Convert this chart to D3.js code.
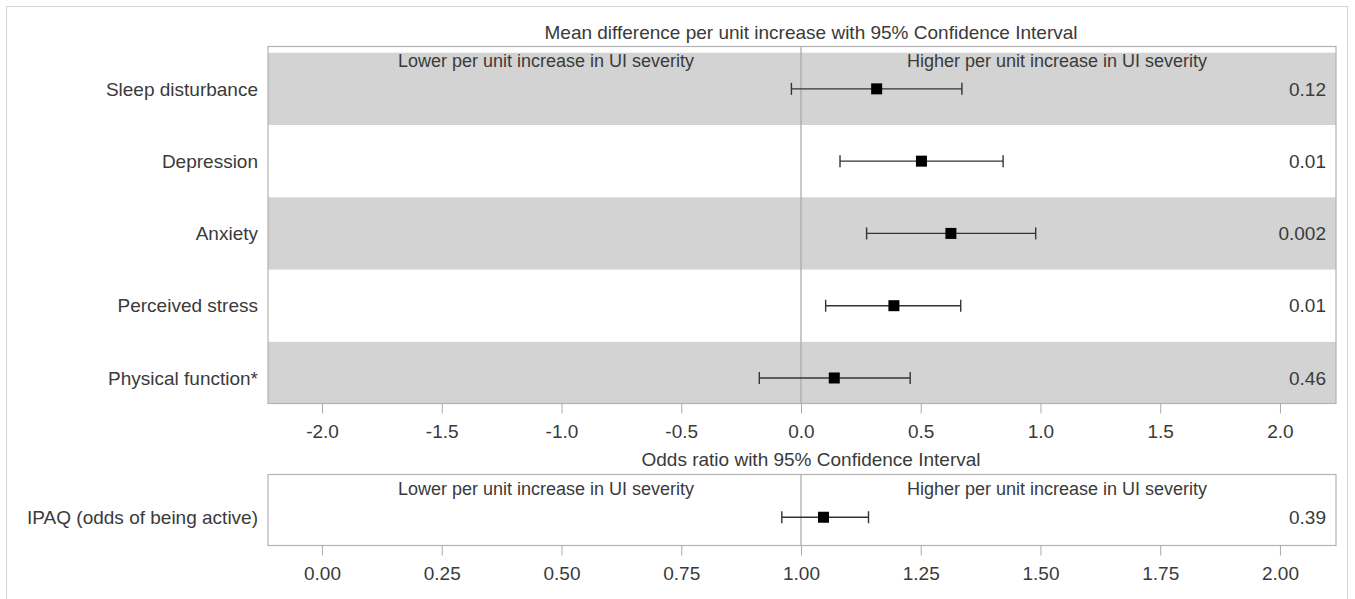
<!DOCTYPE html>
<html>
<head>
<meta charset="utf-8">
<script src="https://cdn.jsdelivr.net/npm/d3@7"></script>
<style>
  body { margin: 0; background: #fff; }
  text { font-family: "Liberation Sans", Arial, sans-serif; fill: #3a3a3a; }
</style>
</head>
<body>
<svg id="chart" width="1355" height="599"></svg>
<script>
// upper panel: mean difference with 95% CI
var outcomes = ["Sleep disturbance", "Depression", "Anxiety", "Perceived stress", "Physical function*"];
var estimates = [0.316, 0.503, 0.626, 0.388, 0.139];
var lowerCI = [-0.04, 0.163, 0.274, 0.103, -0.174];
var upperCI = [0.672, 0.844, 0.98, 0.667, 0.456];
var pValues = ["0.12", "0.01", "0.002", "0.01", "0.46"];
var mdTicks = [-2.0, -1.5, -1.0, -0.5, 0.0, 0.5, 1.0, 1.5, 2.0];

// lower panel: odds ratio with 95% CI
var orOutcomes = ["IPAQ (odds of being active)"];
var orEstimates = [1.047];
var orLowerCI = [0.96];
var orUpperCI = [1.141];
var orPValues = ["0.39"];
var orTicks = [0.00, 0.25, 0.50, 0.75, 1.00, 1.25, 1.50, 1.75, 2.00];

var svg = d3.select("#chart");
var left = 268, right = 1336;

// outer frame
svg.append("rect")
    .attr("x", 6.5).attr("y", 6.5)
    .attr("width", 1341).attr("height", 620)
    .attr("fill", "none").attr("stroke", "#d4d4d4");

function drawPanel(cfg) {
    var x = d3.scaleLinear().domain(cfg.xDomain).range([left, right]);
    var y = d3.scaleLinear().domain(cfg.yDomain).range([cfg.top, cfg.bottom]);
    var g = svg.append("g");
    var n = cfg.labels.length;

    // title
    g.append("text")
        .attr("x", 811).attr("y", cfg.top - cfg.titleGap)
        .attr("text-anchor", "middle")
        .attr("font-size", 19)
        .text(cfg.title);

    // alternating bands
    var clipId = "clip" + cfg.id;
    g.append("clipPath").attr("id", clipId)
      .append("rect")
        .attr("x", left).attr("y", cfg.top)
        .attr("width", right - left).attr("height", cfg.bottom - cfg.top);

    g.append("g").attr("clip-path", "url(#" + clipId + ")")
      .selectAll("rect")
      .data(d3.range(n).filter(function (i) { return i % 2 === 0 && cfg.shade; }))
      .enter().append("rect")
        .attr("x", left)
        .attr("y", function (i) { return y(i - 0.5); })
        .attr("width", right - left)
        .attr("height", function (i) { return y(i + 0.5) - y(i - 0.5); })
        .attr("fill", "#d3d3d3");

    // reference line
    g.append("line")
        .attr("x1", x(cfg.ref)).attr("x2", x(cfg.ref))
        .attr("y1", cfg.top).attr("y2", cfg.bottom)
        .attr("stroke", "#a6a6a6").attr("stroke-width", 1.2);

    // direction labels
    g.append("text")
        .attr("x", 546).attr("y", cfg.top + 20.5)
        .attr("text-anchor", "middle").attr("font-size", 18)
        .text("Lower per unit increase in UI severity");
    g.append("text")
        .attr("x", 1057).attr("y", cfg.top + 20.5)
        .attr("text-anchor", "middle").attr("font-size", 18)
        .text("Higher per unit increase in UI severity");

    // border
    g.append("rect")
        .attr("x", left).attr("y", cfg.top)
        .attr("width", right - left).attr("height", cfg.bottom - cfg.top)
        .attr("fill", "none").attr("stroke", "#b3b3b3").attr("stroke-width", 1.2);

    // axis
    var axis = d3.axisBottom(x)
        .tickValues(cfg.ticks)
        .tickSize(10).tickPadding(11)
        .tickFormat(function (d) { return d.toFixed(cfg.digits); });
    var ax = g.append("g")
        .attr("transform", "translate(0," + cfg.bottom + ")")
        .call(axis);
    ax.select(".domain").remove();
    ax.selectAll(".tick line").attr("stroke", "#aaa");
    ax.selectAll(".tick text")
        .attr("font-size", 19)
        .attr("font-family", "Liberation Sans, Arial, sans-serif")
        .attr("fill", "#3a3a3a");

    // category labels
    g.selectAll(".cat").data(cfg.labels).enter().append("text")
        .attr("class", "cat")
        .attr("x", 258)
        .attr("y", function (d, i) { return y(i); })
        .attr("dy", "0.35em")
        .attr("text-anchor", "end").attr("font-size", 19)
        .text(function (d) { return d; });

    // p values
    g.selectAll(".pval").data(cfg.p).enter().append("text")
        .attr("class", "pval")
        .attr("x", 1326)
        .attr("y", function (d, i) { return y(i); })
        .attr("dy", "0.35em")
        .attr("text-anchor", "end").attr("font-size", 19)
        .text(function (d) { return d; });

    // error bars
    var rows = d3.range(n);
    var bars = g.append("g").attr("stroke", "#333").attr("stroke-width", 1.4);
    bars.selectAll(".ci").data(rows).enter().append("line")
        .attr("x1", function (i) { return x(cfg.lo[i]); })
        .attr("x2", function (i) { return x(cfg.hi[i]); })
        .attr("y1", function (i) { return y(i); })
        .attr("y2", function (i) { return y(i); });
    bars.selectAll(".capL").data(rows).enter().append("line")
        .attr("x1", function (i) { return x(cfg.lo[i]); })
        .attr("x2", function (i) { return x(cfg.lo[i]); })
        .attr("y1", function (i) { return y(i) - 6; })
        .attr("y2", function (i) { return y(i) + 6; });
    bars.selectAll(".capR").data(rows).enter().append("line")
        .attr("x1", function (i) { return x(cfg.hi[i]); })
        .attr("x2", function (i) { return x(cfg.hi[i]); })
        .attr("y1", function (i) { return y(i) - 6; })
        .attr("y2", function (i) { return y(i) + 6; });

    // point estimates
    g.selectAll(".pt").data(rows).enter().append("rect")
        .attr("x", function (i) { return x(cfg.est[i]) - 5.5; })
        .attr("y", function (i) { return y(i) - 5.5; })
        .attr("width", 11).attr("height", 11)
        .attr("fill", "#000");
}

drawPanel({
    id: "md",
    title: "Mean difference per unit increase with 95% Confidence Interval",
    labels: outcomes, est: estimates, lo: lowerCI, hi: upperCI, p: pValues,
    ticks: mdTicks, digits: 1, ref: 0,
    xDomain: [-2.2255, 2.234], yDomain: [-0.586, 4.353],
    top: 46.5, bottom: 403.5, shade: true, titleGap: 7.5
});

drawPanel({
    id: "or",
    title: "Odds ratio with 95% Confidence Interval",
    labels: orOutcomes, est: orEstimates, lo: orLowerCI, hi: orUpperCI, p: orPValues,
    ticks: orTicks, digits: 2, ref: 1,
    xDomain: [-0.1127, 2.117], yDomain: [-0.59, 0.39],
    top: 474.5, bottom: 545.5, shade: false, titleGap: 8.5
});
</script>
</body>
</html>
